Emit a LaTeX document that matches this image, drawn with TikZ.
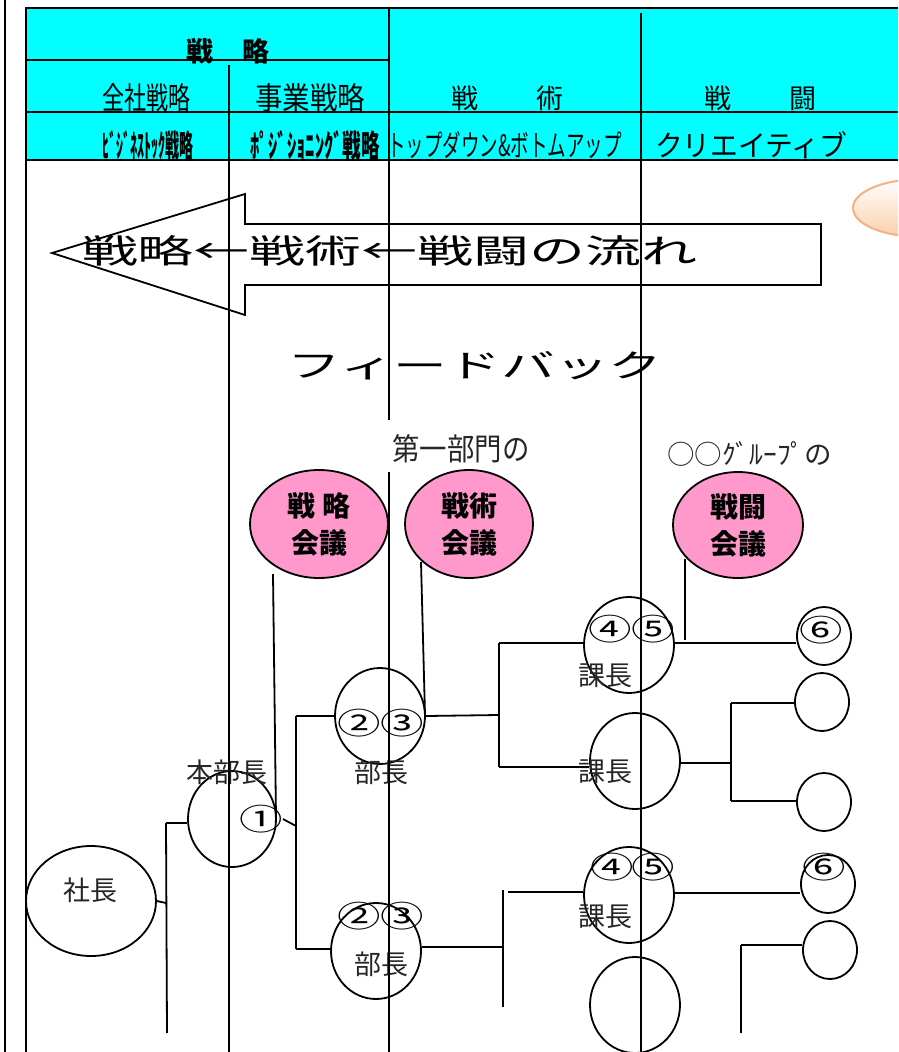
\documentclass[tikz,border=0pt]{standalone}
\usepackage{fontspec}
\usepackage{graphicx}
\newfontfamily\jp{Noto Sans CJK JP}
\usetikzlibrary{shapes.geometric}
\definecolor{hdr}{RGB}{0,255,255}
\definecolor{pinkf}{RGB}{255,153,204}
\definecolor{peach}{RGB}{251,208,170}
\definecolor{orangeb}{RGB}{244,177,131}
\newcommand\fitto[3]{\resizebox{#1pt}{#2pt}{#3}}
\begin{document}
\begin{tikzpicture}[x=1pt,y=-1pt,
  tbl/.style={line width=2.6pt},
  ln/.style={line width=1.8pt},
  circ/.style={ellipse, draw, line width=1.8pt, inner sep=0pt},
  meet/.style={ellipse, draw, line width=1.8pt, fill=pinkf, inner sep=0pt, align=center, font=\jp\bfseries\fontsize{28}{37}\selectfont},
  txt/.style={inner sep=0pt, font=\jp\fontsize{27}{30}\selectfont},
  btxt/.style={inner sep=0pt, font=\jp\bfseries\fontsize{27}{30}\selectfont},
  lbl/.style={inner sep=0pt, font=\jp\fontsize{27}{30}\selectfont, text=black!85},
  num/.style={inner sep=0pt, font=\jp\fontsize{30}{30}\selectfont}
]
\useasboundingbox (0,0) rectangle (898,1052);
\clip (0,0) rectangle (898,1052);
% header fill
\fill[hdr] (26,8) rectangle (898,160);
% orange bubble
\node[ellipse, minimum width=130pt, minimum height=57pt, top color=white, bottom color=peach, draw=orangeb, line width=2pt] (bubble) at (918,208) {};
% header texts
\node[btxt] (hS) at (228,51) {戦\hspace{29pt}略};
\node[txt] (hS1) at (146,98) {\fitto{88}{26}{全社戦略}};
\node[txt] (hS2) at (310,98) {\fitto{110}{26}{事業戦略}};
\node[txt] (hT) at (507,98) {戦\hspace{58pt}術};
\node[txt] (hF) at (760,98) {戦\hspace{58pt}闘};
\node[btxt] (r1) at (147.5,146) {\fitto{91}{27}{ﾋﾞｼﾞﾈｽﾄｯｸ戦略}};
\node[btxt] (r2) at (315,146) {\fitto{130}{27}{ﾎﾟｼﾞｼｮﾆﾝｸﾞ戦略}};
\node[txt] (r3) at (504.5,145) {\fitto{235}{25}{トップダウン\&ボトムアップ}};
\node[txt] (r4) at (751,145) {\fitto{192}{25}{クリエイティブ}};
% big arrow
\draw[line width=1.8pt] (52,253) -- (245,194) -- (245,224) -- (821,224) -- (821,285) -- (245,285) -- (245,315) -- cycle;
\node[txt] (flow) at (389.5,251) {\fitto{615}{28}{戦略←戦術←戦闘の流れ}};
\node[txt] (fb) at (475,366) {\fitto{375}{26}{フィードバック}};
\node[lbl] (dep) at (461,449) {\fitto{137}{26}{第一部門の}};
\node[lbl] (grp) at (749.5,454) {\fitto{165}{23}{○○ｸﾞﾙｰﾌﾟの}};
% meetings
\node[meet, minimum width=138pt, minimum height=108pt] (mS) at (319,524) {戦 略\\会議};
\node[meet, minimum width=128pt, minimum height=108pt] (mT) at (469,524) {戦術\\会議};
\node[meet, minimum width=130pt, minimum height=106pt] (mF) at (738,525) {戦闘\\会議};
% persons
\node[circ, minimum width=130pt, minimum height=110pt] (shacho) at (91,901) {};
\node[circ, minimum width=88pt, minimum height=96pt] (honbu) at (232,819) {};
\node[circ, minimum width=90pt, minimum height=96pt] (bucho1) at (380,716) {};
\node[circ, minimum width=90pt, minimum height=96pt] (bucho2) at (376,951) {};
\node[circ, minimum width=90pt, minimum height=96pt] (kacho1) at (629,645) {};
\node[circ, minimum width=90pt, minimum height=96pt] (kacho2) at (635,761) {};
\node[circ, minimum width=90pt, minimum height=96pt] (kacho3) at (629,895) {};
\node[circ, minimum width=90pt, minimum height=96pt] (kacho4) at (635,1005) {};
\node[circ, minimum width=54pt, minimum height=58pt] (m1) at (824,636) {};
\node[circ, minimum width=54pt, minimum height=58pt] (m2) at (822,702) {};
\node[circ, minimum width=54pt, minimum height=58pt] (m3) at (824,802) {};
\node[circ, minimum width=54pt, minimum height=58pt] (m4) at (828,884) {};
\node[circ, minimum width=54pt, minimum height=58pt] (m5) at (830,950) {};
% labels
\node[lbl] (tShacho) at (90,890) {社長};
\node[lbl] (tHonbu) at (227,772) {本部長};
\node[lbl] (tBu1) at (381,772) {部長};
\node[lbl] (tBu2) at (381,964) {部長};
\node[lbl] (tKa1) at (605,676) {課長};
\node[lbl] (tKa2) at (605,772) {課長};
\node[lbl] (tKa3) at (605,917) {課長};
% circled numbers
\node[num] (n1) at (261,819) {\scalebox{1.45}[1]{①}};
\node[num] (n2a) at (359,723) {\scalebox{1.45}[1]{②}};
\node[num] (n3a) at (402,723) {\scalebox{1.45}[1]{③}};
\node[num] (n2b) at (359,916) {\scalebox{1.45}[1]{②}};
\node[num] (n3b) at (402,916) {\scalebox{1.45}[1]{③}};
\node[num] (n4a) at (610,629) {\scalebox{1.45}[1]{④}};
\node[num] (n5a) at (653,629) {\scalebox{1.45}[1]{⑤}};
\node[num] (n4b) at (612,867) {\scalebox{1.45}[1]{④}};
\node[num] (n5b) at (653,867) {\scalebox{1.45}[1]{⑤}};
\node[num] (n6a) at (821,630) {\scalebox{1.45}[1]{⑥}};
\node[num] (n6b) at (824,867) {\scalebox{1.45}[1]{⑥}};
% connectors
\coordinate (j1) at (166,903);
\coordinate (j1t) at (166,823);
\coordinate (j1b) at (167,1033);
\draw[ln] (shacho.east) -- (j1);
\draw[ln] (j1t) -- (j1b);
\draw[ln] (j1t) -- (j1t -| honbu.west);
\coordinate (s1) at (273,574);
\coordinate (s1b) at (276,818);
\draw[ln] (s1) -- (s1b);
\coordinate (j2) at (296,826);
\coordinate (j2t) at (296,716);
\coordinate (j2b) at (296,949);
\draw[ln] (n1.east) -- (j2);
\draw[ln] (j2t) -- (j2b);
\draw[ln] (j2t) -- (bucho1.west);
\draw[ln] (j2b) -- (j2b -| bucho2.west);
\coordinate (s2) at (421,562);
\coordinate (s2b) at (425,715);
\draw[ln] (s2) -- (s2b);
\coordinate (j3) at (499,715);
\coordinate (j3t) at (499,643);
\coordinate (j3b) at (499,767);
\draw[ln] (bucho1.east) -- (j3);
\draw[ln] (j3t) -- (j3b);
\draw[ln] (j3t) -- (j3t -| kacho1.west);
\draw[ln] (j3b) -- (j3b -| kacho2.west);
\coordinate (s3) at (685,559);
\coordinate (s3b) at (685,640);
\draw[ln] (s3) -- (s3b);
\coordinate (k1r) at (675,643);
\draw[ln] (k1r) -- (k1r -| m1.west);
\coordinate (j4) at (731,763);
\coordinate (j4t) at (731,703);
\coordinate (j4b) at (731,801);
\draw[ln] (j4 -| kacho2.east) -- (j4);
\draw[ln] (j4t) -- (j4b);
\draw[ln] (j4t) -- (j4t -| m2.west);
\draw[ln] (j4b) -- (j4b -| m3.west);
\coordinate (j5) at (503,947);
\coordinate (j5t) at (503,890);
\coordinate (j5b) at (503,1007);
\coordinate (j5h) at (508,892);
\draw[ln] (j5 -| bucho2.east) -- (j5);
\draw[ln] (j5t) -- (j5b);
\draw[ln] (j5h) -- (j5h -| kacho3.west);
\coordinate (k3r) at (675,893);
\draw[ln] (k3r) -- (k3r -| m4.west);
\coordinate (j6) at (741,945);
\coordinate (j6b) at (741,1033);
\draw[ln] (j6) -- (j6 -| m5.west);
\draw[ln] (j6) -- (j6b);
% column lines
\draw[ln] (5,0) -- (5,1052);
\draw[ln] (229,65) -- (229,1052);
\draw[ln] (389,160) -- (389,420);
\draw[ln] (389,472) -- (389,1052);
\draw[ln] (641,13) -- (641,1052);
% table borders
\draw[tbl] (26,1052) -- (26,8) -- (898,8);
\draw[tbl] (26,60) -- (389,60);
\draw[tbl] (26,112) -- (898,112);
\draw[tbl] (26,160) -- (898,160);
\draw[tbl] (389,8) -- (389,160);
\end{tikzpicture}
\end{document}
